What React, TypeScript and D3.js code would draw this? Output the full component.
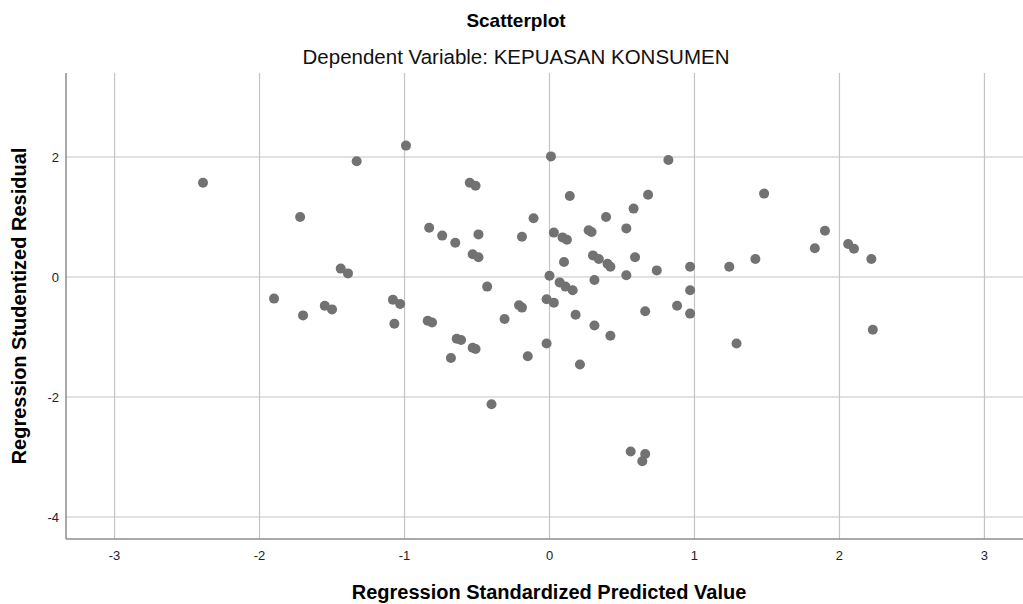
import React, { useEffect, useRef } from "react";
import * as d3 from "d3";

// Regression Standardized Predicted Value
const predicted = [
  -2.39, -1.72, -1.33, -0.99, -1.9, -1.7, -1.44, -1.39, -1.55, -1.5,
  -1.08, -1.03, -1.07, -0.83, -0.74, -0.65, -0.84, -0.81, -0.68, -0.64,
  -0.61, -0.55, -0.51, -0.53, -0.49, -0.49, -0.53, -0.51, -0.43, -0.4,
  -0.31, -0.19, -0.11, -0.21, -0.19, -0.15, -0.02, 0.01, 0.03, 0.0,
  -0.02, 0.03, 0.09, 0.12, 0.14, 0.1, 0.07, 0.11, 0.16, 0.18,
  0.21, 0.27, 0.29, 0.3, 0.34, 0.31, 0.31, 0.39, 0.4, 0.42,
  0.42, 0.58, 0.53, 0.59, 0.53, 0.68, 0.74, 0.66, 0.82, 0.88,
  0.97, 0.97, 0.97, 0.56, 0.66, 0.64, 1.48, 1.24, 1.42, 1.29,
  1.83, 1.9, 2.06, 2.1, 2.22, 2.23,
];

// Regression Studentized Residual
const residual = [
  1.57, 1.0, 1.93, 2.19, -0.36, -0.64, 0.14, 0.06, -0.48, -0.54,
  -0.38, -0.45, -0.78, 0.82, 0.69, 0.57, -0.73, -0.76, -1.35, -1.03,
  -1.05, 1.57, 1.52, 0.38, 0.33, 0.71, -1.18, -1.2, -0.16, -2.12,
  -0.7, 0.67, 0.98, -0.47, -0.51, -1.32, -1.11, 2.01, 0.74, 0.02,
  -0.37, -0.43, 0.66, 0.62, 1.35, 0.25, -0.09, -0.16, -0.22, -0.63,
  -1.46, 0.78, 0.75, 0.36, 0.3, -0.05, -0.81, 1.0, 0.22, 0.17,
  -0.98, 1.14, 0.81, 0.33, 0.03, 1.37, 0.11, -0.57, 1.95, -0.48,
  0.17, -0.22, -0.61, -2.91, -2.95, -3.07, 1.39, 0.17, 0.3, -1.11,
  0.48, 0.77, 0.55, 0.47, 0.3, -0.88,
];

const xTicks = [-3, -2, -1, 0, 1, 2, 3];
const yTicks = [-4, -2, 0, 2];

const chartTitle = "Scatterplot";
const chartSubtitle = "Dependent Variable: KEPUASAN KONSUMEN";
const xTitle = "Regression Standardized Predicted Value";
const yTitle = "Regression Studentized Residual";

export default function App() {
  const ref = useRef<SVGSVGElement | null>(null);

  useEffect(() => {
    document.body.style.margin = "0";
    const width = 1023;
    const height = 604;
    const left = 66;
    const right = 1023;
    const top = 73;
    const bottom = 539;
    const font = "'Liberation Sans', Arial, sans-serif";

    const svg = d3.select(ref.current);
    svg.selectAll("*").remove();

    const x = d3.scaleLinear().domain([-3.335, 3.266]).range([left, right]);
    const y = d3.scaleLinear().domain([-4.367, 3.4]).range([bottom, top]);

    svg.append("rect").attr("width", width).attr("height", height).attr("fill", "#fff");

    // grid
    svg
      .append("g")
      .selectAll("line")
      .data(xTicks)
      .enter()
      .append("line")
      .attr("x1", (d) => x(d))
      .attr("x2", (d) => x(d))
      .attr("y1", top)
      .attr("y2", bottom)
      .attr("stroke", "#c4c4c4")
      .attr("stroke-width", 1.2);

    svg
      .append("g")
      .selectAll("line")
      .data(yTicks)
      .enter()
      .append("line")
      .attr("x1", left)
      .attr("x2", right)
      .attr("y1", (d) => y(d))
      .attr("y2", (d) => y(d))
      .attr("stroke", "#c4c4c4")
      .attr("stroke-width", 1.2);

    // axes lines
    svg
      .append("line")
      .attr("x1", left)
      .attr("x2", left)
      .attr("y1", top)
      .attr("y2", bottom)
      .attr("stroke", "#8c8c8c")
      .attr("stroke-width", 1.5);
    svg
      .append("line")
      .attr("x1", left)
      .attr("x2", right)
      .attr("y1", bottom)
      .attr("y2", bottom)
      .attr("stroke", "#8c8c8c")
      .attr("stroke-width", 1.5);

    // tick labels
    svg
      .append("g")
      .selectAll("text")
      .data(xTicks)
      .enter()
      .append("text")
      .attr("x", (d) => x(d))
      .attr("y", 560)
      .attr("text-anchor", "middle")
      .style("font-family", "'Liberation Sans Narrow', 'Liberation Sans', Arial, sans-serif")
      .style("font-size", "13px")
      .attr("fill", "#222")
      .text((d) => d);

    svg
      .append("g")
      .selectAll("text")
      .data(yTicks)
      .enter()
      .append("text")
      .attr("x", 59)
      .attr("y", (d) => y(d))
      .attr("dy", "0.35em")
      .attr("text-anchor", "end")
      .style("font-family", font)
      .style("font-size", "13px")
      .attr("fill", "#222")
      .text((d) => d);

    // points
    svg
      .append("g")
      .selectAll("circle")
      .data(predicted)
      .enter()
      .append("circle")
      .attr("cx", (d) => x(d))
      .attr("cy", (d, i) => y(residual[i]))
      .attr("r", 5)
      .attr("fill", "#727272");

    // titles
    svg
      .append("text")
      .attr("x", 516)
      .attr("y", 27)
      .attr("text-anchor", "middle")
      .style("font-family", font)
      .style("font-size", "19px")
      .style("font-weight", "bold")
      .text(chartTitle);

    svg
      .append("text")
      .attr("x", 516)
      .attr("y", 64)
      .attr("text-anchor", "middle")
      .style("font-family", font)
      .style("font-size", "20.5px")
      .attr("fill", "#111")
      .text(chartSubtitle);

    svg
      .append("text")
      .attr("x", 549)
      .attr("y", 599)
      .attr("text-anchor", "middle")
      .style("font-family", font)
      .style("font-size", "20px")
      .style("font-weight", "bold")
      .text(xTitle);

    svg
      .append("text")
      .attr("transform", `translate(26,${(top + bottom) / 2}) rotate(-90)`)
      .attr("text-anchor", "middle")
      .style("font-family", font)
      .style("font-size", "20px")
      .style("font-weight", "bold")
      .text(yTitle);
  }, []);

  return <svg ref={ref} width={1023} height={604} style={{ display: "block" }}></svg>;
}
